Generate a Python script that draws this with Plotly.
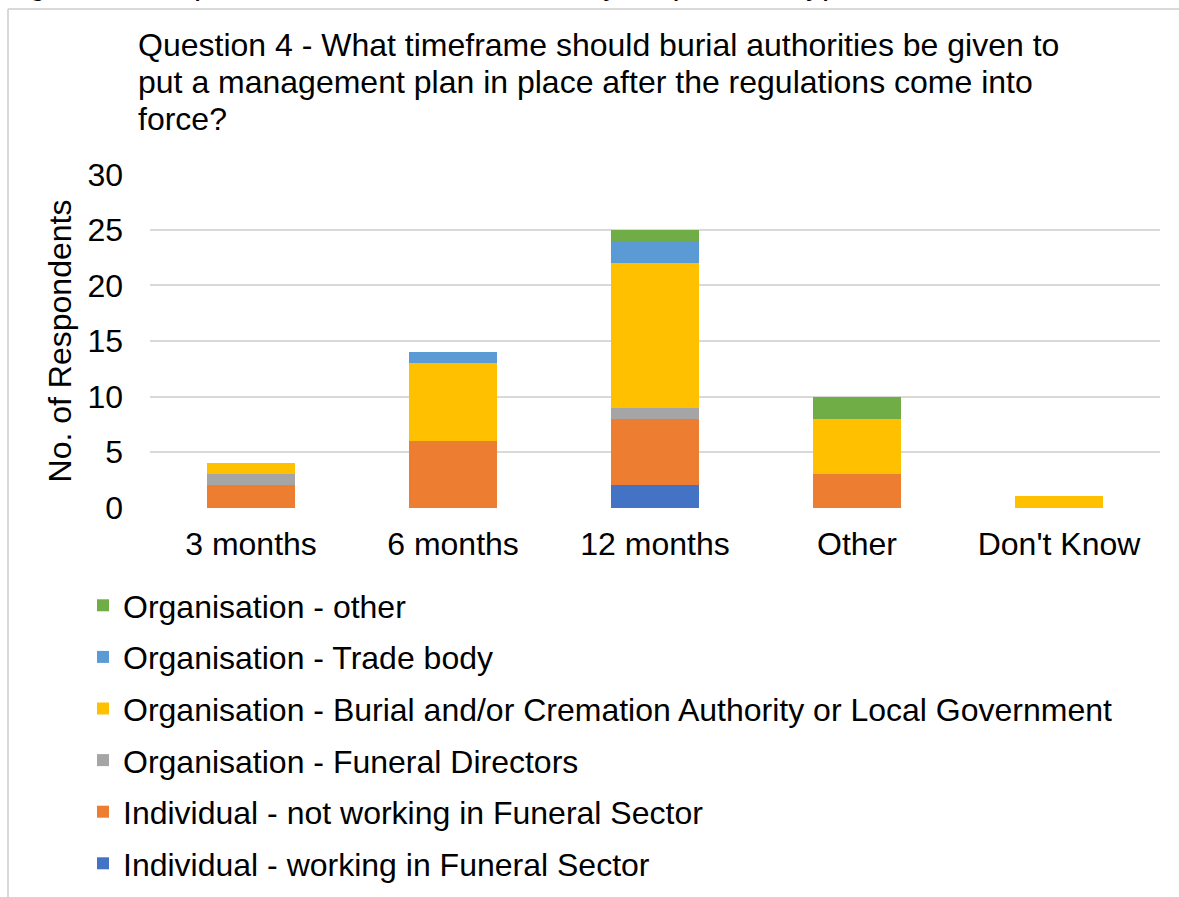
import plotly.graph_objects as go

categories = ["3 months", "6 months", "12 months", "Other", "Don't Know"]

ind_working = [0, 0, 2, 0, 0]
ind_not_working = [2, 6, 6, 3, 0]
org_funeral_directors = [1, 0, 1, 0, 0]
org_burial_authority = [1, 7, 13, 5, 1]
org_trade_body = [0, 1, 2, 0, 0]
org_other = [0, 0, 1, 2, 0]

series = [
    ("Individual - working in Funeral Sector", ind_working, "#4472C4"),
    ("Individual - not working in Funeral Sector", ind_not_working, "#ED7D31"),
    ("Organisation - Funeral Directors", org_funeral_directors, "#A5A5A5"),
    ("Organisation - Burial and/or Cremation Authority or Local Government", org_burial_authority, "#FFC000"),
    ("Organisation - Trade body", org_trade_body, "#5B9BD5"),
    ("Organisation - other", org_other, "#70AD47"),
]

y_ticks = [0, 5, 10, 15, 20, 25, 30]

FONT = "Liberation Sans, Arial, sans-serif"

fig = go.Figure()
for i, (name, vals, color) in enumerate(series):
    fig.add_trace(go.Bar(
        x=categories, y=vals, name=name, legendgroup=name,
        legendrank=1000 - i,
        marker=dict(color=color, line=dict(width=0)),
    ))

W, H = 1179, 897
L, R, T, B = 150, 19, 174, 389
pw, ph = W - L - R, H - T - B

def px(x):
    return (x - L) / pw

def py(y):
    return (H - B - y) / ph

fig.update_layout(
    width=W, height=H,
    margin=dict(l=L, r=R, t=T, b=B, autoexpand=False),
    barmode="stack", bargap=0.564,
    paper_bgcolor="white", plot_bgcolor="white",
    font=dict(family=FONT, size=32, color="#000000"),
    showlegend=True,
    legend=dict(
        x=px(83), y=py(578), xanchor="left", yanchor="top",
        traceorder="grouped", tracegroupgap=7,
        font=dict(size=32, color="#000000"),
        bgcolor="rgba(0,0,0,0)", borderwidth=0,
    ),
    xaxis=dict(
        showgrid=False, zeroline=False, showline=False,
        tickfont=dict(size=32), ticks="", ticklabelstandoff=14,
    ),
    yaxis=dict(
        range=[-0.04, 30.04], tickvals=y_ticks, showgrid=True,
        gridcolor="#D9D9D9", gridwidth=2, zeroline=False, showline=False,
        tickfont=dict(size=32), ticks="", ticklabelstandoff=26,
        title=dict(text="No. of Respondents", font=dict(size=32), standoff=6),
    ),
)

# thin frame around the chart area
frame = dict(color="#D9D9D9", width=2)
fig.add_shape(type="line", xref="paper", yref="paper",
              x0=px(8), x1=px(1179), y0=py(9), y1=py(9), line=frame)
fig.add_shape(type="line", xref="paper", yref="paper",
              x0=px(8), x1=px(8), y0=py(9), y1=py(897), line=frame)

# figure caption above the frame
fig.add_annotation(
    text="Figure 6: Responses to Q4 broken down by respondent type",
    xref="paper", yref="paper", x=px(0), y=py(-17),
    xanchor="left", yanchor="middle", showarrow=False,
    font=dict(size=32, color="#000000"),
)

title_lines = [
    "Question 4 - What timeframe should burial authorities be given to",
    "put a management plan in place after the regulations come into",
    "force?",
]
for i, line in enumerate(title_lines):
    fig.add_annotation(
        text=line, xref="paper", yref="paper",
        x=px(136), y=py(45 + 37 * i),
        xanchor="left", yanchor="middle", showarrow=False,
        font=dict(size=32, color="#000000"),
    )

fig.write_html("out.html")
